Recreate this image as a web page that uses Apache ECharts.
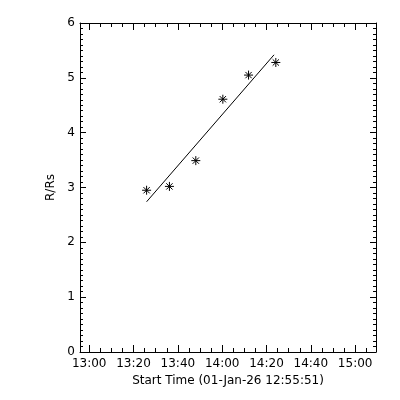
<!DOCTYPE html>
<html><head><meta charset="utf-8">
<script src="https://cdn.jsdelivr.net/npm/echarts@6/dist/echarts.min.js"></script>
<style>html,body{margin:0;padding:0;background:#fff}#c{width:400px;height:400px}</style>
</head><body><div id="c"></div>
<script>
const obsTimes = ["13:25:54","13:36:12","13:48:06","14:00:18","14:11:54","14:24:12"];
const obsRadius = [2.95, 3.02, 3.49, 4.61, 5.05, 5.28];
const fitTimes = ["13:25:54","14:23:24"];
const fitRadius = [2.74, 5.42];
const xTickLabels = ["13:00","13:20","13:40","14:00","14:20","14:40","15:00"];
const minorTickTimes = ["13:05","13:10","13:15","13:25","13:30","13:35","13:45","13:50","13:55","14:05","14:10","14:15","14:25","14:30","14:35","14:45","14:50","14:55","15:05"];
const yTicks = [0,1,2,3,4,5,6];
const axisStart = "12:55:51";
const axisEnd = "15:09:24";
const xTitle = "Start Time (01-Jan-26 12:55:51)";
const yTitle = "R/Rs";

function toMin(s){const p=s.split(":").map(Number);return (p[0]-13)*60+p[1]+(p[2]||0)/60;}
function fmt(v){let t=Math.round(v)+780;const h=Math.floor(t/60),m=t%60;return h+":"+(m<10?"0":"")+m;}
const majors = xTickLabels.map(toMin);
const minors = minorTickTimes.map(toMin);
const yMinors = [];
for (let i=0;i<yTicks.length-1;i++) for (let k=1;k<10;k++) yMinors.push(+(yTicks[i]+k/10).toFixed(1));
const xmin = toMin(axisStart), xmax = toMin(axisEnd);
const font = {fontFamily:"DejaVu Sans", fontSize:12, color:"#000"};
function axLine(show){return {show:show, onZero:false, lineStyle:{color:"#000", width:1}};}
function xa(pos, custom, len, labels, line){
  return {type:"value", position:pos, min:xmin, max:xmax,
    axisLine: axLine(line),
    axisTick:{show:true, inside:true, length:len, customValues:custom, lineStyle:{color:"#000"}},
    axisLabel: labels ? Object.assign({show:true, customValues:custom, formatter:fmt, margin:6}, font) : {show:false},
    splitLine:{show:false},
    name: labels ? xTitle : "", nameLocation:"middle", nameGap:21, nameTextStyle: font};
}
function ya(pos, custom, len, labels, line){
  return {type:"value", position:pos, min:0, max:6,
    axisLine: axLine(line),
    axisTick:{show:true, inside:true, length:len, customValues:custom, lineStyle:{color:"#000"}},
    axisLabel: labels ? Object.assign({show:true, customValues:custom, margin:5}, font) : {show:false},
    splitLine:{show:false},
    name: labels ? yTitle : "", nameLocation:"middle", nameGap:17, nameRotate:90, nameTextStyle: font};
}
const chart = echarts.init(document.getElementById("c"), null, {renderer:"canvas"});
chart.setOption({
  animation:false,
  grid:{left:80, right:24, top:23, bottom:48},
  xAxis:[xa("bottom", majors, 7, true, true), xa("bottom", minors, 4, false, false),
         xa("top", majors, 7, false, true), xa("top", minors, 4, false, false)],
  yAxis:[ya("left", yTicks, 6, true, true), ya("left", yMinors, 3, false, false),
         ya("right", yTicks, 6, false, true), ya("right", yMinors, 3, false, false)],
  series:[
    {type:"line", xAxisIndex:0, yAxisIndex:0, showSymbol:false, symbol:"none",
     lineStyle:{color:"#000", width:1},
     data: fitTimes.map((t,i)=>[toMin(t), fitRadius[i]])},
    {type:"scatter", xAxisIndex:0, yAxisIndex:0, symbolSize:9,
     symbol:"path://M0,5L10,5M5,0L5,10M1.5,1.5L8.5,8.5M8.5,1.5L1.5,8.5",
     itemStyle:{color:"none", borderColor:"#000", borderWidth:1, opacity:1},
     data: obsTimes.map((t,i)=>[toMin(t), obsRadius[i]])}
  ]
});
</script></body></html>
